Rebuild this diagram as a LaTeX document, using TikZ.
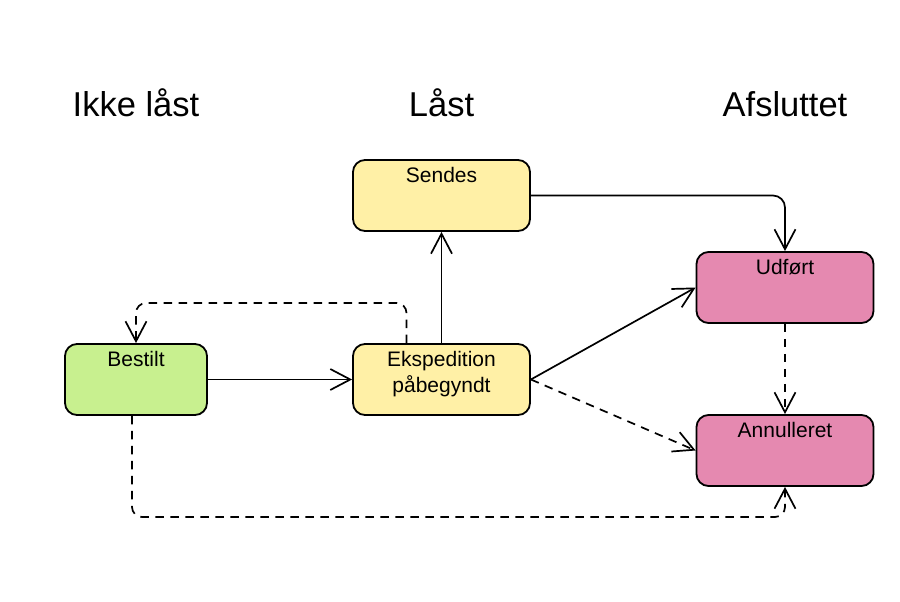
\documentclass[tikz,border=0pt]{standalone}
\usepackage{fontspec}
\setmainfont{Liberation Sans}
\usetikzlibrary{arrows.meta,calc}
\definecolor{cgreen}{HTML}{C8F08F}
\definecolor{cyellow}{HTML}{FFF0A6}
\definecolor{cpink}{HTML}{E589B0}
\begin{document}
\begin{tikzpicture}[x=1pt,y=-1pt,
 box/.style={draw=black, line width=1.8pt, rounded corners=12pt, minimum height=71pt, inner sep=0pt},
 txt/.style={anchor=north, inner sep=0pt, font=\fontsize{21}{26}\selectfont, align=center},
 head/.style={anchor=base, inner sep=0pt, font=\fontsize{34.5}{40}\selectfont},
 arr/.style={line width=1.7pt, -{Straight Barb[length=20pt,width=21pt,line width=1.7pt]}},
 dsh/.style={arr, dash pattern=on 8.5pt off 6.5pt}]
\useasboundingbox (0,0) rectangle (900,602);
% column headers
\node[head] (h1) at (136,116) {Ikke låst};
\node[head] (h2) at (441.5,116) {Låst};
\node[head] (h3) at (785,116) {Afsluttet};
% boxes
\node[box, fill=cgreen, minimum width=142pt] (b) at (136,379.5) {};
\node[box, fill=cyellow, minimum width=177pt] (e) at (441.5,379.5) {};
\node[box, fill=cyellow, minimum width=177pt] (s) at (441.5,195.5) {};
\node[box, fill=cpink, minimum width=177pt] (u) at (785,287.5) {};
\node[box, fill=cpink, minimum width=177pt] (a) at (785,450.5) {};
% labels
\node[txt] (bt) at ([yshift=-8.3pt]b.north) {Bestilt};
\node[txt] (et) at ([yshift=-8.3pt]e.north) {Ekspedition\\påbegyndt};
\node[txt] (st) at ([yshift=-8.3pt]s.north) {Sendes};
\node[txt] (ut) at ([yshift=-8.3pt]u.north) {Udført};
\node[txt] (at) at ([yshift=-8.3pt]a.north) {Annulleret};
% helper coordinates
\coordinate (e1) at ([xshift=-35pt]e.north);
\coordinate (top1) at (0,303);
\coordinate (b1) at ([xshift=-4pt]b.south);
\coordinate (bot) at (0,517);
% connectors
\draw[arr] (b) -- (e);
\draw[arr] (e) -- (s);
\draw[arr, rounded corners=12pt] (s.east) -| (u.north);
\draw[arr] (e.east) -- (u.west);
\draw[dsh] (e.east) -- (a.west);
\draw[dsh] (u) -- (a);
\draw[dsh, rounded corners=10pt] (e1) -- (e1 |- top1) -| (b.north);
\draw[dsh, rounded corners=10pt] (b1) -- (b1 |- bot) -| (a.south);
\end{tikzpicture}
\end{document}
